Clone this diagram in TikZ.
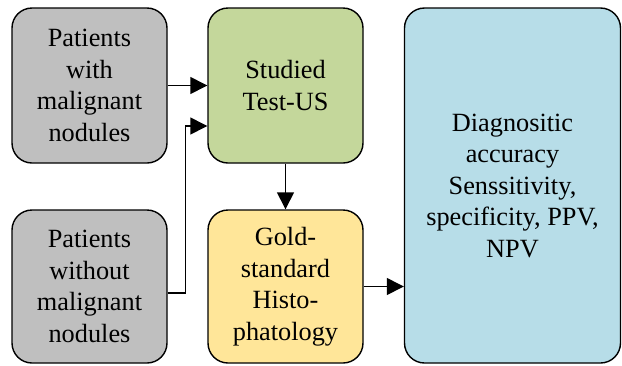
\documentclass[tikz,border=0pt]{standalone}
\usepackage{fontspec}
\setmainfont{Liberation Serif}
\usetikzlibrary{arrows.meta}
\definecolor{cgray}{HTML}{BFBFBF}
\definecolor{cgreen}{HTML}{C4D79B}
\definecolor{cyellow}{HTML}{FFE699}
\definecolor{cblue}{HTML}{B7DDE8}
\begin{document}
\begin{tikzpicture}[x=1pt,y=-1pt,
  box/.style={draw=black, line width=1.4pt, rounded corners=20pt, align=center,
    font=\fontsize{26.3}{31.5}\selectfont, inner sep=0pt},
  arr/.style={draw=black, line width=1.4pt, -{Triangle[length=17pt,width=17pt]}}]
\useasboundingbox (0,0) rectangle (622,365);
\node[box, fill=cgray, minimum width=155pt, minimum height=155pt] (b1) at (89.5,85.5) {Patients\\with\\malignant\\nodules};
\node[box, fill=cgreen, minimum width=155pt, minimum height=155pt] (b2) at (285.5,85.5) {Studied\\Test-US};
\node[box, fill=cgray, minimum width=155pt, minimum height=153pt] (b3) at (89.5,286.5) {Patients\\without\\malignant\\nodules};
\node[box, fill=cyellow, minimum width=155pt, minimum height=153pt] (b4) at (285.5,286.5) {Gold-\\standard\\Histo-\\phatology};
\node[box, fill=cblue, minimum width=216pt, minimum height=355pt] (b5) at (512.5,185.5) {Diagnositic\\accuracy\\Senssitivity,\\specificity, PPV,\\NPV};
\draw[arr] (b1) -- (b2);
\draw[arr] ([yshift=-6.5pt]b3.east) -- ++(18,0) |- ([yshift=-40.5pt]b2.west);
\draw[arr] (b2) -- (b4);
\draw[arr] (b4.east) -- (b4.east -| b5.west);
\end{tikzpicture}
\end{document}
